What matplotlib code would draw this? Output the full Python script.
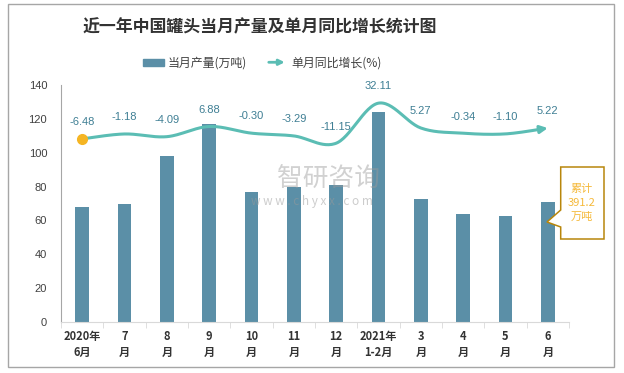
import numpy as np
import matplotlib
matplotlib.use("Agg")
import matplotlib.pyplot as plt
from matplotlib.patches import Patch, Polygon, Rectangle, FancyArrowPatch
from matplotlib.legend_handler import HandlerBase
from matplotlib.lines import Line2D

plt.rcParams['font.family'] = ['Noto Sans CJK SC', 'DejaVu Sans']

# data
months = ["2020年\n6月", "7\n月", "8\n月", "9\n月", "10\n月", "11\n月", "12\n月",
          "2021年\n1-2月", "3\n月", "4\n月", "5\n月", "6\n月"]
output = [68, 70, 98, 117, 77, 80, 81, 124, 72.6, 63.8, 62.6, 70.8]
growth = [-6.48, -1.18, -4.09, 6.88, -0.30, -3.29, -11.15, 32.11, 5.27, -0.34, -1.10, 5.22]
cumulative = 391.2

bar_col = "#5b8fa7"
line_col = "#5bbdb4"
lab_col = "#3f7f94"
dot_col = "#f5b523"


def smooth(xs, ys, n=30):
    # Catmull-Rom style bezier, like excel's smoothed line
    xs = np.asarray(xs, float)
    ys = np.asarray(ys, float)
    px = np.concatenate([[xs[0]], xs, [xs[-1]]])
    py = np.concatenate([[ys[0]], ys, [ys[-1]]])
    ox, oy = [], []
    for i in range(1, len(px) - 2):
        p0 = np.array([px[i], py[i]])
        p3 = np.array([px[i + 1], py[i + 1]])
        c1 = p0 + (p3 - np.array([px[i - 1], py[i - 1]])) / 6
        c2 = p3 - (np.array([px[i + 2], py[i + 2]]) - p0) / 6
        t = np.linspace(0, 1, n)[:, None]
        pts = (1 - t) ** 3 * p0 + 3 * (1 - t) ** 2 * t * c1 + 3 * (1 - t) * t ** 2 * c2 + t ** 3 * p3
        ox.extend(pts[:, 0])
        oy.extend(pts[:, 1])
    return np.array(ox), np.array(oy)


class ArrowHandler(HandlerBase):
    def create_artists(self, legend, orig_handle, xdescent, ydescent, width, height, fontsize, trans):
        y = height / 2 - ydescent
        a = FancyArrowPatch((-xdescent, y), (width - xdescent, y), arrowstyle='-|>',
                            mutation_scale=8, color=line_col, lw=2, transform=trans)
        return [a]


fig = plt.figure(figsize=(6.24, 3.73), dpi=100)
ax = fig.add_axes([61 / 624, 1 - 322 / 373, 508 / 624, 237 / 373])

x = np.arange(len(months))
ax.bar(x, output, width=0.33, color=bar_col, zorder=2)
ax.set_xlim(-0.5, len(months) - 0.5)
ax.set_ylim(0, 140)
ax.set_yticks(range(0, 141, 20))
ax.set_xticks(x)
ax.set_xticklabels(months, fontsize=8, fontweight='bold', color='#333333', linespacing=1.25)
ax.set_xticks(np.arange(-0.5, len(months)), minor=True)
ax.tick_params(axis='x', which='major', length=0, pad=6)
ax.tick_params(axis='x', which='minor', length=4, color='#d9d9d9', direction='out')
ax.tick_params(axis='y', length=0, pad=10, labelsize=8, labelcolor='#404040')
for lbl in ax.get_yticklabels():
    lbl.set_family(['Liberation Sans', 'DejaVu Sans'])
for s in ['top', 'right']:
    ax.spines[s].set_visible(False)
ax.spines['left'].set_color('#a6a6a6')
ax.spines['bottom'].set_color('#d9d9d9')

# growth line on a hidden second axis
ax2 = ax.twinx()
ax2.set_ylim(-204.2, 51.7)
ax2.axis('off')
sx, sy = smooth(x, growth)
cut = len(sx) - 6
ax2.plot(sx[:cut], sy[:cut], color=line_col, lw=2.2, zorder=3, solid_capstyle='round')
ax2.annotate('', xy=(x[-1], growth[-1]), xytext=(sx[cut - 1], sy[cut - 1]),
             arrowprops=dict(arrowstyle='-|>', color=line_col, lw=2.2, mutation_scale=11,
                             shrinkA=0, shrinkB=0))
ax2.plot([x[0]], [growth[0]], 'o', color=dot_col, ms=7, zorder=4)
for xi, g in zip(x, growth):
    ax2.annotate(f"{g:.2f}", (xi, g), xytext=(0, 12), textcoords='offset points',
                 ha='center', va='center', fontsize=8, color=lab_col,
                 family=['Liberation Sans', 'DejaVu Sans'])

# title and legend
fig.text(260 / 624, 1 - 27 / 373, "近一年中国罐头当月产量及单月同比增长统计图", ha='center', va='center',
         fontsize=12.2, fontweight='bold', color='#333333')
handles = [Patch(color=bar_col), Line2D([], [], color=line_col)]
fig.legend(handles, ["当月产量(万吨)", "单月同比增长(%)"], loc='center',
           bbox_to_anchor=(262 / 624, 1 - 63 / 373), ncol=2, frameon=False, fontsize=8.6,
           handlelength=1.8, handleheight=0.55, handletextpad=0.3, columnspacing=1.6,
           handler_map={Line2D: ArrowHandler()}, labelcolor='#404040')

# watermark
fig.text(328 / 624, 1 - 179 / 373, "智研咨询", ha='center', va='center', fontsize=18.5,
         color='#9a9a9a', alpha=0.45, zorder=10)
fig.text(312 / 624, 1 - 202 / 373, "w w w . c h y x x . c o m", ha='center', va='center',
         fontsize=8.5, color='#9a9a9a', alpha=0.5, zorder=10)

# callout box
pts = [(560.7, 167), (604, 167), (604, 239), (560.7, 239), (560.7, 227), (547, 222), (560.7, 210)]
fpts = [(px / 624, 1 - py / 373) for px, py in pts]
fig.patches.append(Polygon(fpts, closed=True, transform=fig.transFigure, facecolor='white',
                           edgecolor='#b8860b', lw=1.1, zorder=5))
fig.text(582 / 624, 1 - 203 / 373, f"累计\n{cumulative}\n万吨", ha='center', va='center',
         fontsize=8, color='#f5b93a', linespacing=1.45, zorder=6)

# outer frame
fig.patches.append(Rectangle((8 / 624, 1 - 367 / 373), 606 / 624, 363 / 373,
                             transform=fig.transFigure, fill=False, edgecolor='#a6a6a6', lw=1))

fig.savefig("out.png", dpi=100)
